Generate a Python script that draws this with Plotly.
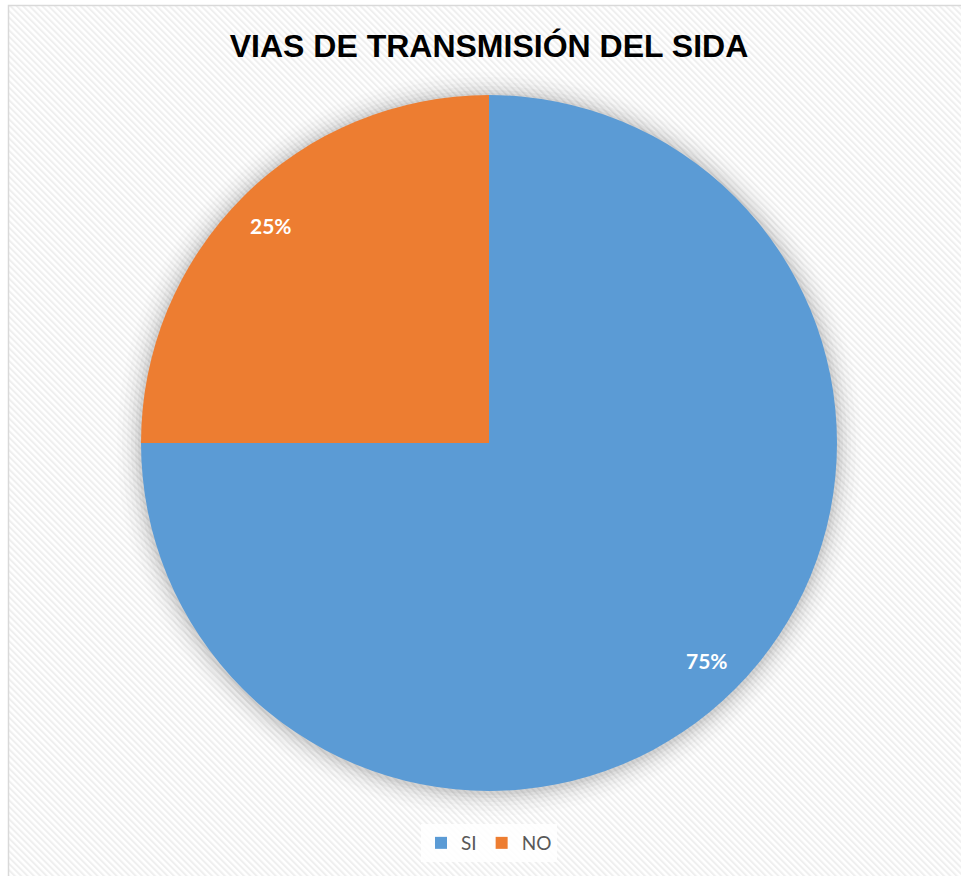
import math
import base64
import plotly.graph_objects as go

# ---- data ----
categories = ["SI", "NO"]
values = [75, 25]
colors = ["#5B9BD5", "#ED7D31"]
title_text = "VIAS DE TRANSMISIÓN DEL SIDA"

W, H = 961, 876
cx, cy, R = 489, 443, 348  # pie centre / radius in pixels

# hatched background as an SVG image
svg = f'''<svg xmlns="http://www.w3.org/2000/svg" width="{W}" height="{H}">
<defs><pattern id="p" width="4.5" height="4.5" patternUnits="userSpaceOnUse" patternTransform="rotate(-45)">
<rect width="4.5" height="4.5" fill="#ffffff"/><rect width="2" height="4.5" fill="#efefef"/></pattern></defs>
<rect width="{W}" height="{H}" fill="url(#p)"/></svg>'''
bg_src = "data:image/svg+xml;base64," + base64.b64encode(svg.encode()).decode()

fig = go.Figure()
fig.add_trace(go.Pie(
    labels=categories,
    values=values,
    sort=False,
    direction="clockwise",
    rotation=0,
    marker=dict(colors=colors, line=dict(width=0)),
    textinfo="none",
    hoverinfo="label+percent",
    domain=dict(x=[(cx - R) / W, (cx + R) / W], y=[1 - (cy + R) / H, 1 - (cy - R) / H]),
    showlegend=True,
))

# percentage labels placed like Excel (near the outer part of each slice)
total = sum(values)
start = 90.0
annotations = []
for v in values:
    sweep = 360.0 * v / total
    mid = math.radians(start - sweep / 2)
    start -= sweep
    r_lab = 0.885 * R
    px = cx + r_lab * math.cos(mid)
    py = cy - r_lab * math.sin(mid)
    annotations.append(dict(
        x=px / W, y=1 - py / H, xref="paper", yref="paper",
        text=f"<b>{round(100 * v / total)}%</b>", showarrow=False,
        font=dict(family="Lato, Open Sans, sans-serif", size=21, color="white"),
        xanchor="center", yanchor="middle",
    ))

# soft shadow around the pie
shapes = []
for extra, op in [(24, 0.012), (19, 0.018), (14, 0.025), (10, 0.032), (6, 0.04), (3, 0.045)]:
    rr = R + extra
    shapes.append(dict(type="circle", xref="paper", yref="paper", layer="below",
                       x0=(cx - rr) / W, x1=(cx + rr) / W,
                       y0=1 - (cy + rr + 1) / H, y1=1 - (cy - rr + 1) / H,
                       fillcolor=f"rgba(0,0,0,{op})", line=dict(width=0)))
# chart border
shapes.append(dict(type="rect", xref="paper", yref="paper", layer="above",
                   x0=8.5 / W, x1=(W + 5) / W, y0=-0.02, y1=1 - 5.5 / H,
                   line=dict(color="#d9d9d9", width=1.5), fillcolor="rgba(0,0,0,0)"))

fig.update_layout(
    width=W, height=H,
    margin=dict(l=0, r=0, t=0, b=0),
    paper_bgcolor="white",
    plot_bgcolor="white",
    title=dict(text=f"<b>{title_text}</b>", x=489 / W, xanchor="center",
               y=1 - 46 / H, yanchor="middle",
               font=dict(family="Liberation Sans, Arial, sans-serif", size=32, color="black")),
    legend=dict(orientation="h", x=489 / W, xanchor="center", y=1 - 843 / H, yanchor="middle",
                font=dict(family="Lato, Open Sans, sans-serif", size=19, color="#595959"),
                bgcolor="rgba(255,255,255,0.85)", itemwidth=30, tracegroupgap=0),
    images=[dict(source=bg_src, xref="paper", yref="paper", x=9 / W, y=1 - 6 / H,
                 sizex=1, sizey=1, xanchor="left", yanchor="top", sizing="stretch", layer="below")],
    shapes=shapes,
    annotations=annotations,
)

fig.write_html("out.html", config={"displayModeBar": False},
               post_script="document.body.style.margin='0';")
